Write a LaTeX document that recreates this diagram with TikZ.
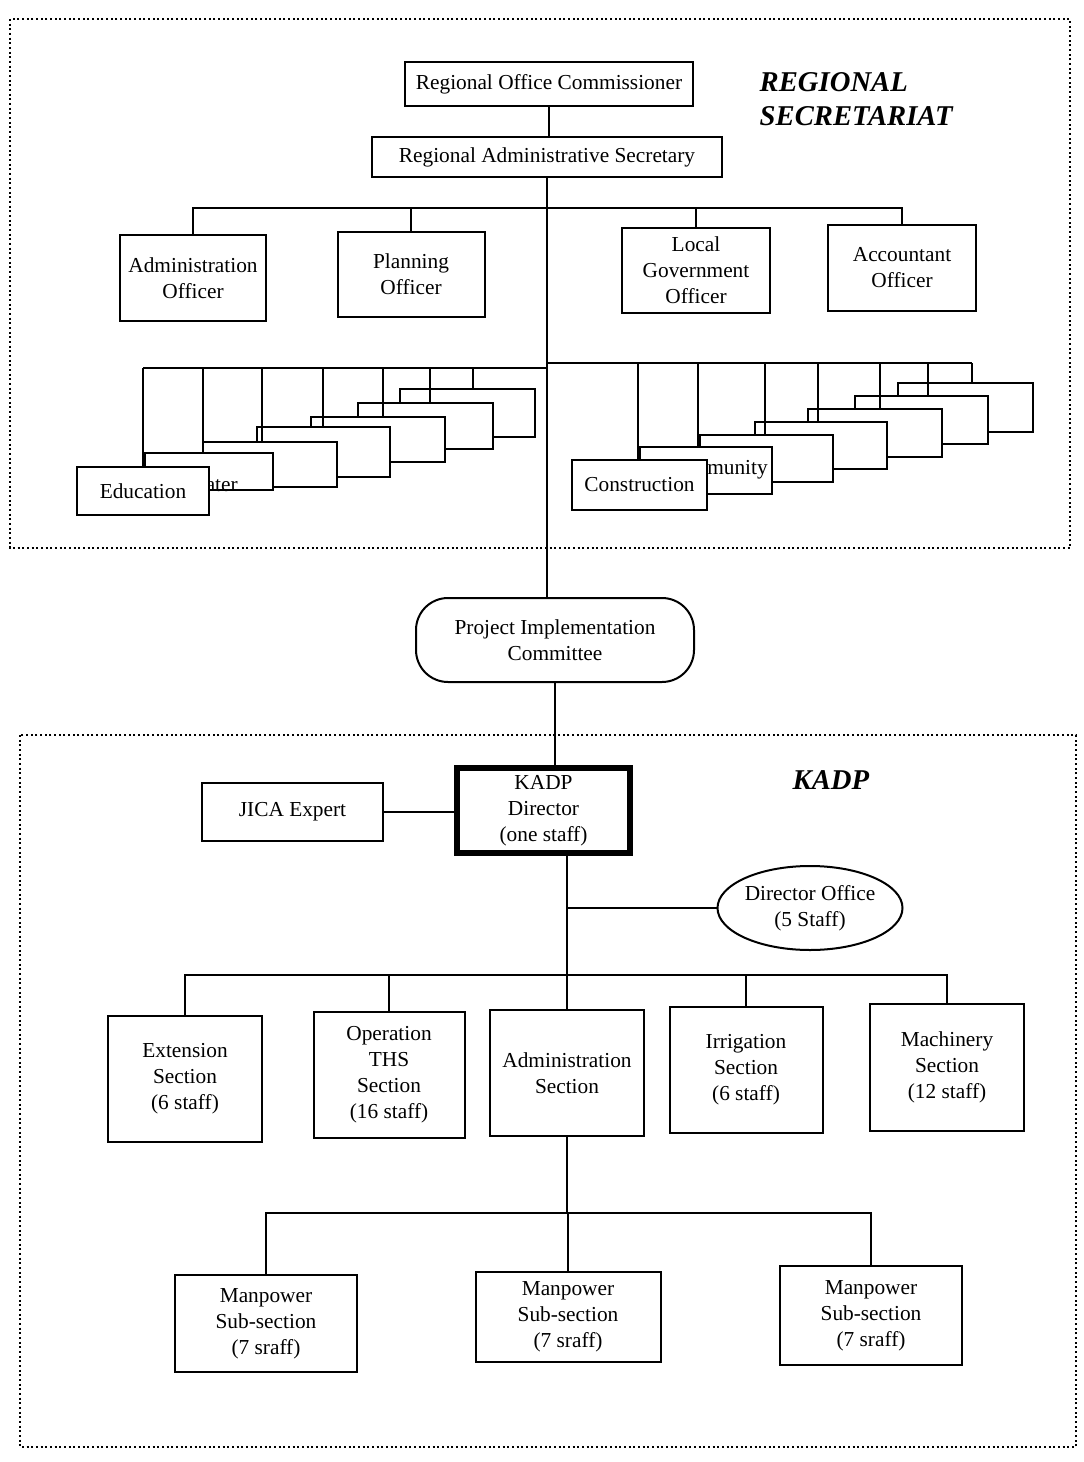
\documentclass[tikz,border=0pt]{standalone}
\usepackage{fontspec}
\setmainfont{Liberation Serif}
\usetikzlibrary{shapes.geometric}
\begin{document}
\begin{tikzpicture}[x=0.75pt,y=-0.75pt,
  every node/.style={font=\fontsize{16}{19.5}\selectfont},
  sz/.style 2 args={minimum width=#1*0.75pt, minimum height=#2*0.75pt},
  box/.style={draw, line width=1.5pt, fill=white, inner sep=0pt, align=center},
  sbox/.style={draw, line width=1.3pt, fill=white, inner sep=0pt, align=center},
  conn/.style={line width=1.5pt},
  frame/.style={line width=1.6pt, dash pattern=on 1.5pt off 2pt},
  title/.style={font=\fontsize{21.5}{26}\selectfont\bfseries\itshape, anchor=west, align=left}]
\useasboundingbox (0,0) rectangle (1083,1462);
\fill[white] (0,0) rectangle (1083,1462);

% frames
\draw[frame] (10,19) rectangle (1070,548);
\draw[frame] (20,735) rectangle (1076,1447);

% top part
\node[box, sz={288}{44}] (roc) at (549,84) {Regional Office Commissioner};
\node[box, sz={350}{40}] (ras) at (547,157) {Regional Administrative Secretary};
\node[title] (rst) at (755,99) {REGIONAL\\SECRETARIAT};

\node[box, sz={146}{86}] (ao) at (193,278) {Administration\\Officer};
\node[box, sz={147}{85}] (po) at (411,274.5) {Planning\\Officer};
\node[box, sz={148}{85}] (lgo) at (696,270.5) {Local\\Government\\Officer};
\node[box, sz={148}{86}] (acc) at (902,268) {Accountant\\Officer};

\node[box, rounded corners=24pt, sz={278}{84}] (pic) at (555,640) {Project Implementation\\Committee};

\draw[conn] (roc.south) -- (roc.south |- ras.north);
\draw[conn] (ras.south) -- (ras.south |- pic.north);

\coordinate (tb) at (0,208);
\draw[conn] (ao.north) |- (tb -| acc.north) -- (acc.north);
\draw[conn] (po.north) -- (po.north |- tb);
\draw[conn] (lgo.north) -- (lgo.north |- tb);

% left stack
\coordinate (lA) at (143,368);
\coordinate (lB) at (203,368);
\coordinate (lC) at (262,368);
\coordinate (lD) at (323,368);
\coordinate (lE) at (383,368);
\coordinate (lF) at (430,368);
\coordinate (lG) at (473,368);
\draw[conn] (lA) -- (lA -| ras.south);
\node[sbox, sz={135}{48}] (lsG) at (467.5,413) {};
\draw[conn] (lG) -- (lG |- lsG.north);
\node[sbox, sz={135}{46}] (lsF) at (425.5,426) {};
\draw[conn] (lF) -- (lF |- lsF.north);
\node[sbox, sz={134}{45}] (lsE) at (378,439.5) {};
\draw[conn] (lE) -- (lE |- lsE.north);
\node[sbox, sz={133}{50}] (lsD) at (323.5,452) {};
\draw[conn] (lD) -- (lD |- lsD.north);
\node[sbox, sz={134}{45}] (lsC) at (270,464.5) {};
\draw[conn] (lC) -- (lC |- lsC.north);
\node[sbox, sz={128}{37}] (lsB) at (209,471.5) {};
\draw[conn] (lB) -- (lB |- lsB.north);
\node[anchor=east, inner sep=0pt] (wt) at (238,485) {Water};
\node[sbox, sz={132}{48}] (lsA) at (143,491) {Education};
\draw[conn] (lA) -- (lA |- lsA.north);

% right stack
\coordinate (rA) at (638,363);
\coordinate (rB) at (698,363);
\coordinate (rC) at (765,363);
\coordinate (rD) at (818,363);
\coordinate (rE) at (880,363);
\coordinate (rF) at (928,363);
\coordinate (rG) at (972,363);
\draw[conn] (rA -| ras.south) -- (rG);
\node[sbox, sz={135}{49}] (rsG) at (965.5,407.5) {};
\draw[conn] (rG) -- (rG |- rsG.north);
\node[sbox, sz={133}{48}] (rsF) at (921.5,420) {};
\draw[conn] (rF) -- (rF |- rsF.north);
\node[sbox, sz={134}{48}] (rsE) at (875,433) {};
\draw[conn] (rE) -- (rE |- rsE.north);
\node[sbox, sz={132}{47}] (rsD) at (821,445.5) {};
\draw[conn] (rD) -- (rD |- rsD.north);
\node[sbox, sz={133}{47}] (rsC) at (766.5,458.5) {};
\draw[conn] (rC) -- (rC |- rsC.north);
\node[sbox, sz={132}{47}] (rsB) at (706,470.5) {};
\draw[conn] (rB) -- (rB |- rsB.north);
\node[anchor=east, inner sep=0pt] (ct) at (768,470) {Community};
\node[sbox, sz={135}{50}] (rsA) at (639.5,485) {Construction};
\draw[conn] (rA) -- (rA |- rsA.north);

% KADP part
\node[title] (kt) at (788,780) {KADP};
\node[box, line width=3.8pt, sz={173}{85}] (dir) at (543.5,810.5) {KADP\\Director\\(one staff)};
\node[box, sz={181}{58}] (jica) at (292.5,812) {JICA Expert};
\draw[conn] (pic.south) -- (pic.south |- dir.north);
\draw[conn] (jica.east) -- (jica.east -| dir.west);

\node[box, sz={154}{126}] (ext) at (185,1079) {Extension\\Section\\(6 staff)};
\node[box, sz={151}{126}] (oth) at (389,1075) {Operation\\THS\\Section\\(16 staff)};
\node[box, sz={154}{126}] (ads) at (567,1073) {Administration\\Section};
\node[box, sz={153}{126}] (irr) at (746,1070) {Irrigation\\Section\\(6 staff)};
\node[box, sz={154}{127}] (mach) at (947,1067.5) {Machinery\\Section\\(12 staff)};

\node[draw, ellipse, line width=1.5pt, fill=white, inner sep=0pt, align=center,
      sz={185}{84}] (do) at (810,908) {Director Office\\(5 Staff)};

\draw[conn] (ads.north |- dir.south) -- (ads.north);
\draw[conn] (ads.north |- do.west) -- (do.west);

\coordinate (sb) at (0,975);
\draw[conn] (ext.north) |- (sb -| mach.north) -- (mach.north);
\draw[conn] (oth.north) -- (oth.north |- sb);
\draw[conn] (irr.north) -- (irr.north |- sb);

\node[box, sz={182}{97}] (mp1) at (266,1323.5) {Manpower\\Sub-section\\(7 sraff)};
\node[box, sz={185}{90}] (mp2) at (568,1317) {Manpower\\Sub-section\\(7 sraff)};
\node[box, sz={182}{99}] (mp3) at (871,1315.5) {Manpower\\Sub-section\\(7 sraff)};

\coordinate (mb) at (0,1213);
\draw[conn] (ads.south) -- (ads.south |- mb);
\draw[conn] (mp1.north) |- (mb -| mp3.north) -- (mp3.north);
\draw[conn] (mp2.north) -- (mp2.north |- mb);
\end{tikzpicture}
\end{document}
